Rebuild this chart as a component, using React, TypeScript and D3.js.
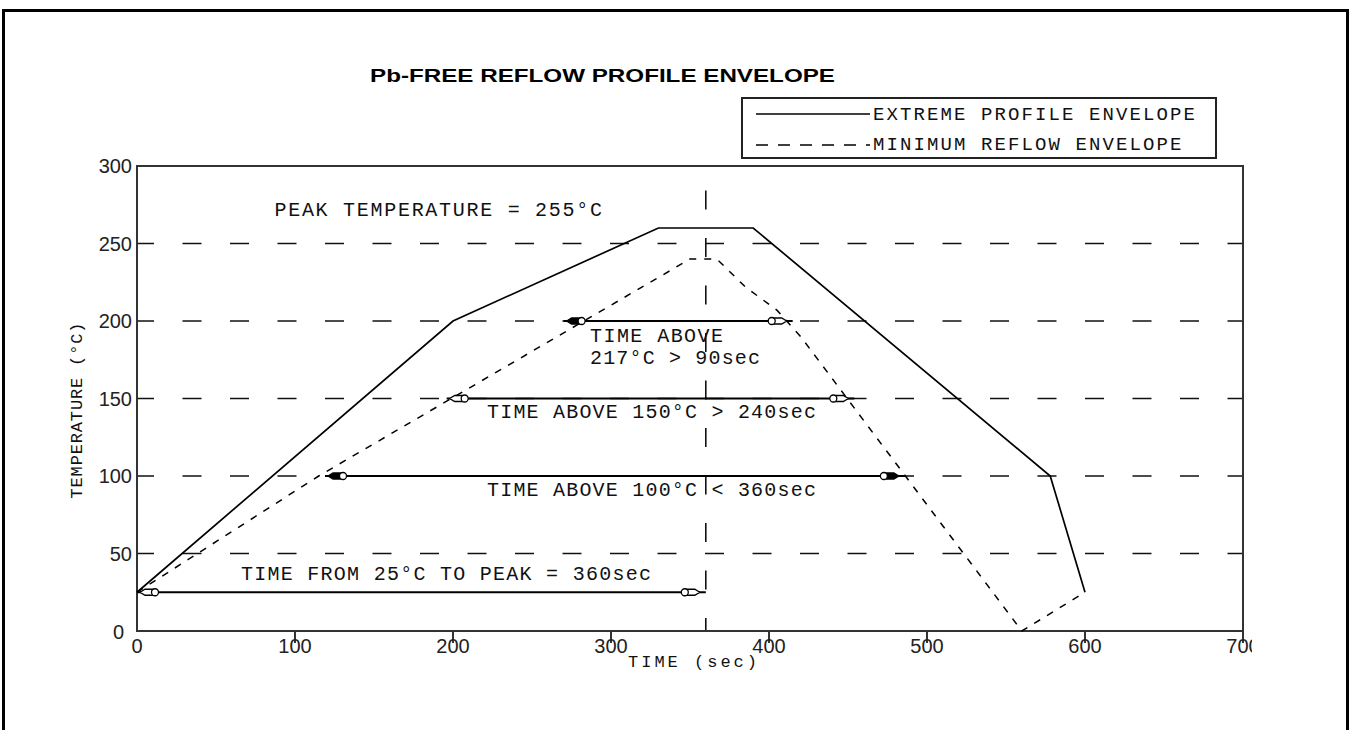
import React from "react";
import * as d3 from "d3";

const W = 1351;
const H = 730;

// axes
const timeTicks = [0, 100, 200, 300, 400, 500, 600, 700];
const tempTicks = [0, 50, 100, 150, 200, 250, 300];
const gridTemps = [50, 100, 150, 200, 250];
const peakTime = 360;

// extreme profile envelope (solid)
const extremeTime = [0, 200, 330, 390, 578, 600];
const extremeTemp = [25, 200, 260, 260, 100, 25];

// minimum reflow envelope (dashed)
const minimumTime = [0, 115, 350, 367, 385, 405, 420, 560, 600];
const minimumTemp = [25, 100, 240, 240, 222, 207, 190, 0, 25];

// double arrows
const arrowTemp = [25, 100, 150, 200];
const arrowFrom = [0, 119, 196, 270];
const arrowTo = [360, 486, 454, 415];
const arrowLeftHead = ["hollow", "filled", "hollow", "filled"];
const arrowRightHead = ["hollow", "filled", "hollow", "hollow"];

// annotation texts (time from / to, temperature of baseline)
const noteText = [
  "PEAK TEMPERATURE = 255°C",
  "TIME ABOVE",
  "217°C > 90sec",
  "TIME ABOVE 150°C > 240sec",
  "TIME ABOVE 100°C < 360sec",
  "TIME FROM 25°C TO PEAK = 360sec",
];
const noteFrom = [87, 286.7, 286.7, 221.5, 221.5, 65.8];
const noteTo = [294.3, 370.9, 394.3, 429.7, 429.7, 325.3];
const noteTemp = [267.7, 186.5, 172.3, 137.4, 87.1, 32.9];

const legendLabels = ["EXTREME PROFILE ENVELOPE", "MINIMUM REFLOW ENVELOPE"];

const mono = "'Liberation Mono', 'DejaVu Sans Mono', monospace";
const sans = "'Liberation Sans', Arial, sans-serif";

const x = d3.scaleLinear().domain([0, 700]).range([137, 1243]);
const y = d3.scaleLinear().domain([0, 300]).range([631, 166]);

const line = d3
  .line<[number, number]>()
  .x((d) => x(d[0]))
  .y((d) => y(d[1]));

// small capsule arrow head, tip at (px, py); dir = -1 points left, +1 points right
function head(px: number, py: number, dir: number, style: string, key: string) {
  const d = -dir;
  const body = [
    [px, py],
    [px + d * 5, py - 3],
    [px + d * 13, py - 3],
    [px + d * 13, py + 3],
    [px + d * 5, py + 3],
  ];
  const path = "M" + body.map((p) => p.join(",")).join("L") + "Z";
  return (
    <g key={key}>
      <path d={path} fill={style === "filled" ? "#000" : "#fff"} stroke="#000" strokeWidth={1.3} />
      <circle cx={px + d * 15} cy={py} r={3.5} fill="#fff" stroke="#000" strokeWidth={1.3} />
    </g>
  );
}

export default function App() {
  const extreme = extremeTime.map((t, i) => [t, extremeTemp[i]] as [number, number]);
  const minimum = minimumTime.map((t, i) => [t, minimumTemp[i]] as [number, number]);

  return (
    <svg
      width={W}
      height={H}
      style={{ position: "absolute", left: 0, top: 0, background: "#fff" }}
    >
      <defs>
        <clipPath id="tickClip">
          <rect x={0} y={0} width={1252} height={H} />
        </clipPath>
      </defs>
      <rect x={0} y={0} width={W} height={H} fill="#fff" />
      {/* outer frame */}
      <rect x={3.5} y={10.5} width={1344} height={800} fill="none" stroke="#000" strokeWidth={3} />

      {/* title */}
      <text
        x={370}
        y={82}
        fontFamily={sans}
        fontWeight="bold"
        fontSize={18}
        textLength={465}
        lengthAdjust="spacingAndGlyphs"
      >
        Pb-FREE REFLOW PROFILE ENVELOPE
      </text>

      {/* legend */}
      <rect x={742} y={98} width={474} height={60} fill="none" stroke="#222" strokeWidth={2} />
      <line x1={756} x2={870} y1={114} y2={114} stroke="#000" strokeWidth={1.6} />
      <line x1={756} x2={870} y1={145} y2={145} stroke="#000" strokeWidth={1.6} strokeDasharray="12 10" />
      {legendLabels.map((s, i) => (
        <text
          key={s}
          x={873}
          y={120 + i * 30}
          fontFamily={mono}
          fontSize={19}
          textLength={s.length * 13.5 - 2}
          lengthAdjust="spacing"
          fill="#111"
        >
          {s}
        </text>
      ))}

      {/* grid lines */}
      {gridTemps.map((t) => (
        <line
          key={t}
          x1={x(0)}
          x2={x(700)}
          y1={y(t)}
          y2={y(t)}
          stroke="#111"
          strokeWidth={1.6}
          strokeDasharray="19 28.5"
          strokeDashoffset={2}
        />
      ))}
      <line
        x1={x(peakTime)}
        x2={x(peakTime)}
        y1={y(0)}
        y2={y(300)}
        stroke="#111"
        strokeWidth={1.6}
        strokeDasharray="19 28.5"
        strokeDashoffset={6}
      />

      {/* plot frame */}
      <rect
        x={x(0)}
        y={y(300)}
        width={x(700) - x(0)}
        height={y(0) - y(300)}
        fill="none"
        stroke="#333"
        strokeWidth={2}
      />

      {/* x ticks and labels */}
      {timeTicks.map((t) => (
        <g key={t}>
          {t > 0 && (
            <line x1={x(t)} x2={x(t)} y1={y(0)} y2={y(0) + 12} stroke="#333" strokeWidth={2} />
          )}
          <text
            x={x(t)}
            y={y(0) + 22}
            textAnchor="middle"
            fontFamily={sans}
            fontSize={20}
            fill="#222"
            clipPath="url(#tickClip)"
          >
            {t}
          </text>
        </g>
      ))}

      {/* y tick labels */}
      {tempTicks.map((t) => (
        <text
          key={t}
          x={t === 0 ? 124 : 132}
          y={y(t) + (t === 0 ? 8 : 7)}
          textAnchor="end"
          fontFamily={sans}
          fontSize={20}
          fill="#222"
        >
          {t}
        </text>
      ))}

      {/* axis titles */}
      <text
        transform={`translate(82,${(y(0) + y(300)) / 2 + 12}) rotate(-90)`}
        textAnchor="middle"
        fontFamily={mono}
        fontSize={17}
        textLength={176}
        lengthAdjust="spacing"
        fill="#111"
      >
        TEMPERATURE (°C)
      </text>
      <text
        x={628}
        y={667}
        fontFamily={mono}
        fontSize={17}
        textLength={129}
        lengthAdjust="spacing"
        fill="#111"
      >
        TIME (sec)
      </text>

      {/* arrows */}
      {arrowTemp.map((t, i) => {
        const yy = y(t);
        const x0 = x(arrowFrom[i]);
        const x1 = x(arrowTo[i]);
        return (
          <g key={t}>
            <line x1={x0} x2={x1} y1={yy} y2={yy} stroke="#000" strokeWidth={1.8} />
            {head(x0 + 3, yy, -1, arrowLeftHead[i], "l")}
            {head(x1 - 6, yy, 1, arrowRightHead[i], "r")}
          </g>
        );
      })}

      {/* profiles */}
      <path d={line(minimum) || ""} fill="none" stroke="#000" strokeWidth={1.5} strokeDasharray="7 8" />
      <path d={line(extreme) || ""} fill="none" stroke="#000" strokeWidth={1.7} />

      {/* annotations */}
      {noteText.map((s, i) => (
        <text
          key={s}
          x={x(noteFrom[i])}
          y={y(noteTemp[i])}
          fontFamily={mono}
          fontSize={20}
          textLength={x(noteTo[i]) - x(noteFrom[i])}
          lengthAdjust="spacing"
          fill="#111"
        >
          {s}
        </text>
      ))}
    </svg>
  );
}
